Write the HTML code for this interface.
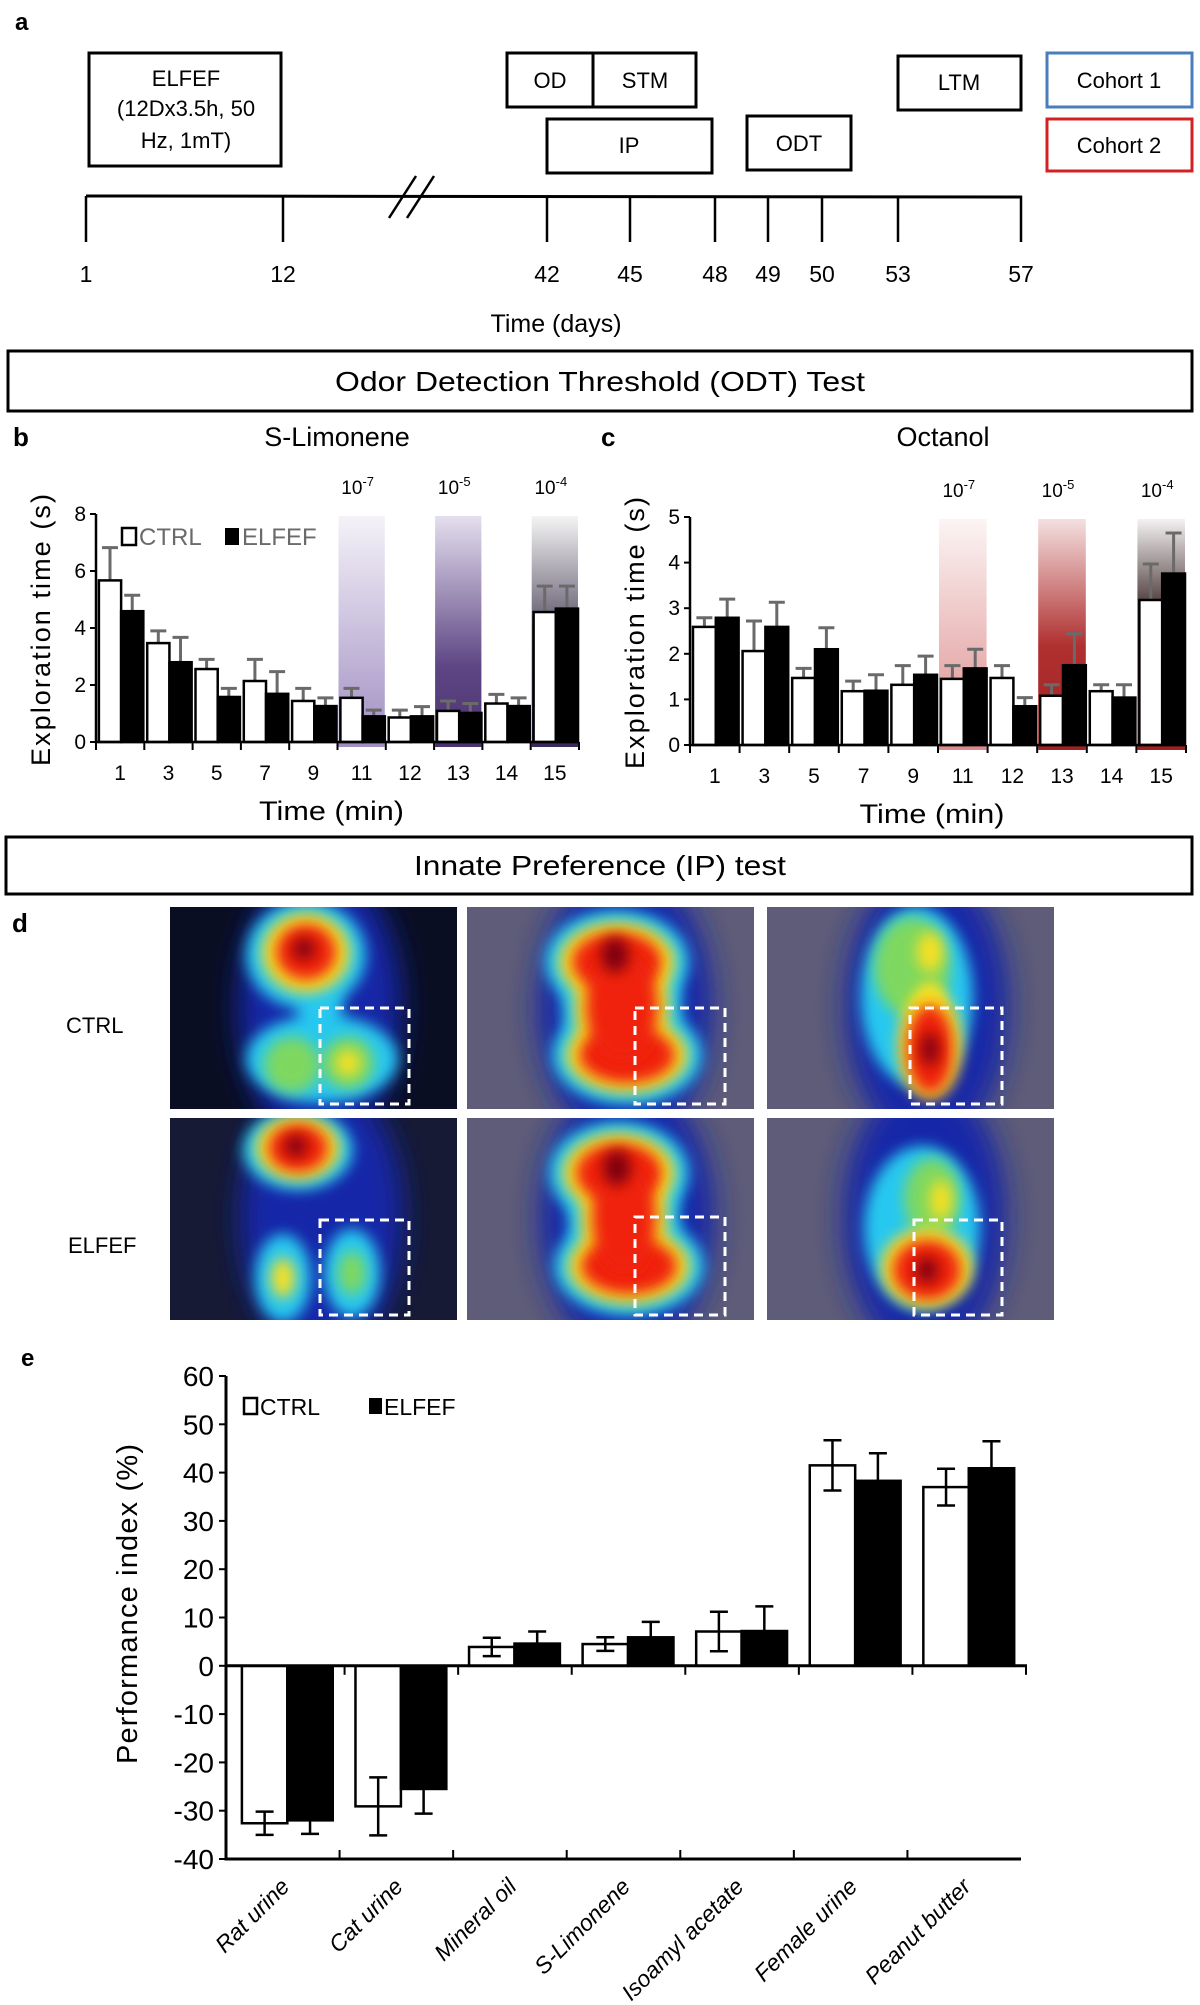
<!DOCTYPE html>
<html><head><meta charset="utf-8"><style>
html,body{margin:0;padding:0;background:#fff;}
svg{display:block;font-family:"Liberation Sans",Arial,sans-serif;}
</style></head><body>
<svg id="fig" width="1200" height="2005" viewBox="0 0 1200 2005" xmlns="http://www.w3.org/2000/svg">
<defs>
<linearGradient id="gb11" x1="0" y1="0" x2="0" y2="1"><stop offset="0" stop-color="#f4f2f8"/><stop offset="1" stop-color="#a08ec2"/></linearGradient>
<linearGradient id="gb13" x1="0" y1="0" x2="0" y2="1"><stop offset="0" stop-color="#e4dfee"/><stop offset="0.65" stop-color="#5e4684"/><stop offset="1" stop-color="#4a3470"/></linearGradient>
<linearGradient id="gb15" x1="0" y1="0" x2="0" y2="1"><stop offset="0" stop-color="#f4f4f4"/><stop offset="0.5" stop-color="#5c5468"/><stop offset="1" stop-color="#3a2a5c"/></linearGradient>
<linearGradient id="gc11" x1="0" y1="0" x2="0" y2="1"><stop offset="0" stop-color="#fcf4f4"/><stop offset="1" stop-color="#dc8a8a"/></linearGradient>
<linearGradient id="gc13" x1="0" y1="0" x2="0" y2="1"><stop offset="0" stop-color="#f4e0e0"/><stop offset="0.55" stop-color="#b03030"/><stop offset="1" stop-color="#a02222"/></linearGradient>
<linearGradient id="gc15" x1="0" y1="0" x2="0" y2="1"><stop offset="0" stop-color="#f4f2f2"/><stop offset="0.35" stop-color="#5a4848"/><stop offset="1" stop-color="#a02020"/></linearGradient>
<filter id="blur" x="-50%" y="-50%" width="200%" height="200%"><feGaussianBlur stdDeviation="7"/></filter>
<filter id="blur2" x="-50%" y="-50%" width="200%" height="200%"><feGaussianBlur stdDeviation="14"/></filter>
</defs>

<!-- Panel a -->
<g font-size="22" text-anchor="middle" fill="#000">
<text x="15" y="30" font-size="24" font-weight="bold" text-anchor="start">a</text>
<rect x="89" y="53" width="192" height="113" fill="none" stroke="#000" stroke-width="3"/>
<text x="186" y="86">ELFEF</text>
<text x="186" y="116">(12Dx3.5h, 50</text>
<text x="186" y="148">Hz, 1mT)</text>
<rect x="507" y="53" width="86" height="54" fill="none" stroke="#000" stroke-width="3"/>
<text x="550" y="88">OD</text>
<rect x="593" y="53" width="103" height="54" fill="none" stroke="#000" stroke-width="3"/>
<text x="645" y="88">STM</text>
<rect x="547" y="119" width="165" height="54" fill="none" stroke="#000" stroke-width="3"/>
<text x="629" y="153">IP</text>
<rect x="747" y="116" width="104" height="54" fill="none" stroke="#000" stroke-width="3"/>
<text x="799" y="151">ODT</text>
<rect x="898" y="56" width="123" height="54" fill="none" stroke="#000" stroke-width="3"/>
<text x="959" y="90">LTM</text>
<rect x="1047" y="53" width="145" height="54" fill="none" stroke="#4a7ebb" stroke-width="3"/>
<text x="1119" y="88">Cohort 1</text>
<rect x="1047" y="119" width="145" height="52" fill="none" stroke="#d42020" stroke-width="3"/>
<text x="1119" y="153">Cohort 2</text>
<line x1="86" y1="196" x2="1022" y2="197" stroke="#000" stroke-width="3"/>
<g stroke="#000" stroke-width="2.5"><line x1="389" y1="218" x2="416" y2="176"/><line x1="407" y1="218" x2="434" y2="176"/></g>
<g id="tticks"></g>
<text x="556" y="332" font-size="25">Time (days)</text>
</g>

<rect x="8" y="351" width="1184" height="60" fill="none" stroke="#000" stroke-width="3"/>
<text x="600" y="391" font-size="28" text-anchor="middle" textLength="530" lengthAdjust="spacingAndGlyphs">Odor Detection Threshold (ODT) Test</text>

<text x="13" y="446" font-size="26" font-weight="bold">b</text>
<text x="337" y="446" font-size="27" text-anchor="middle">S-Limonene</text>
<text x="601" y="446" font-size="26" font-weight="bold">c</text>
<text x="943" y="446" font-size="27" text-anchor="middle">Octanol</text>
<g id="chartB"></g>
<g id="chartC"></g>

<rect x="6" y="837" width="1186" height="57" fill="none" stroke="#000" stroke-width="3"/>
<text x="600" y="875" font-size="28" text-anchor="middle" textLength="372" lengthAdjust="spacingAndGlyphs">Innate Preference (IP) test</text>

<text x="12" y="932" font-size="26" font-weight="bold">d</text>
<text x="66" y="1033" font-size="22">CTRL</text>
<text x="68" y="1253" font-size="22">ELFEF</text>
<g id="heat"></g>

<text x="21" y="1366" font-size="24" font-weight="bold">e</text>
<g id="chartE"></g>
</svg>
<script>
var NS='http://www.w3.org/2000/svg';
function mk(tag,attrs,parent,txt){var e=document.createElementNS(NS,tag);for(var k in attrs)e.setAttribute(k,attrs[k]);if(txt!==undefined)e.textContent=txt;parent.appendChild(e);return e;}

// ---- timeline data
var timelineDays=[1,12,42,45,48,49,50,53,57];
var timelineX=[86,283,547,630,715,768,822,898,1021];
var tt=document.getElementById('tticks');
timelineDays.forEach(function(d,i){
  var l=mk('line',{x1:timelineX[i],y1:196,x2:timelineX[i],y2:242,stroke:'#000','stroke-width':2.5},tt);
  
  
  var t=mk('text',{x:timelineX[i],y:282,'font-size':23},tt,String(d));
  
  
});

// ---- chart b/c data
var odtCategories=['1','3','5','7','9','11','12','13','14','15'];
var limCtrl=[5.67,3.47,2.56,2.14,1.44,1.55,0.86,1.09,1.35,4.56];
var limCtrlErr=[1.15,0.43,0.34,0.76,0.44,0.33,0.26,0.35,0.32,0.91];
var limElfef=[4.59,2.8,1.58,1.69,1.26,0.9,0.9,1.02,1.26,4.68];
var limElfefErr=[0.56,0.87,0.3,0.78,0.29,0.22,0.34,0.33,0.29,0.79];
var limTicks=[0,2,4,6,8];
var octCtrl=[2.59,2.06,1.47,1.18,1.32,1.45,1.47,1.08,1.18,3.18];
var octCtrlErr=[0.2,0.66,0.21,0.22,0.42,0.29,0.27,0.24,0.14,0.79];
var octElfef=[2.79,2.59,2.1,1.19,1.54,1.68,0.85,1.75,1.04,3.76];
var octElfefErr=[0.41,0.54,0.47,0.35,0.41,0.42,0.19,0.69,0.28,0.89];
var octTicks=[0,1,2,3,4,5];
var concLabels=['7','5','4'];
var bandIdx=[5,7,9];

function barChart(g,o){
  var gw=(o.x1-o.x0)/o.cats.length;
  var y=function(v){return o.y0-(v/o.max)*(o.y0-o.yTop);};
  var xg=function(i){return o.x0+i*gw;};
  bandIdx.forEach(function(bi,k){
    var r=mk('rect',{x:xg(bi)+1,y:o.yTop+2,width:gw-2,height:o.y0-o.yTop+3,fill:'url(#'+o.grads[k]+')'},g);
    
    
    var t=mk('text',{x:xg(bi)+gw/2-4,y:o.yTop-20,'font-size':19,'text-anchor':'middle'},g);
    
    
    mk('tspan',{},t,'10');
    mk('tspan',{dy:-8,'font-size':13},t,'-'+concLabels[k]);
  });
  function series(vals,errs,off,fill,name){
    vals.forEach(function(v,i){
      var bx=xg(i)+off, bw=gw*0.46;
      var top=y(v+errs[i]);
      var cx=bx+bw/2;
      var e=mk('path',{d:'M'+cx+' '+y(v)+'V'+top+'M'+(cx-8)+' '+top+'H'+(cx+8),stroke:'#6a6a6a','stroke-width':3,fill:'none'},g);
      
      
      var r=mk('rect',{x:bx,y:y(v),width:bw,height:o.y0-y(v),fill:fill,stroke:'#000','stroke-width':2.5},g);
      
      
    });
  }
  series(o.ctrl,o.ctrlErr,gw*0.06,'#fff','bar-ctrl');
  series(o.elf,o.elfErr,gw*0.52,'#000','bar-elfef');
  var ax=mk('path',{d:'M'+o.x0+' '+o.yTop+'V'+o.y0+'H'+o.x1,stroke:'#000','stroke-width':2.5,fill:'none'},g);
  
  
  o.ticks.forEach(function(t){
    var l=mk('line',{x1:o.x0-6,y1:y(t),x2:o.x0,y2:y(t),stroke:'#000','stroke-width':2},g);
    
    
    var tl=mk('text',{x:o.x0-10,y:y(t)+7,'font-size':21,'text-anchor':'end'},g,String(t));
    
    
  });
  for(var i=0;i<=o.cats.length;i++){
    var l=mk('line',{x1:xg(i),y1:o.y0,x2:xg(i),y2:o.y0+8,stroke:'#000','stroke-width':2},g);
    
    
  }
  o.cats.forEach(function(c,i){
    var t=mk('text',{x:xg(i)+gw/2,y:o.y0+38,'font-size':21,'text-anchor':'middle'},g,c);
    
    
  });
  var xt=mk('text',{x:(o.x0+o.x1)/2-6,y:o.y0+78,'font-size':27,'text-anchor':'middle',textLength:145,lengthAdjust:'spacingAndGlyphs'},g,'Time (min)');
  
  
  var yt=mk('text',{x:0,y:0,'font-size':27,'text-anchor':'middle',textLength:272,lengthAdjust:'spacing',transform:'translate('+(o.x0-46)+','+((o.yTop+o.y0)/2+2)+') rotate(-90)'},g,'Exploration time (s)');
  
  
}
barChart(document.getElementById('chartB'),{x0:96,x1:579,y0:742,yTop:514,max:8,cats:odtCategories,ctrl:limCtrl,ctrlErr:limCtrlErr,elf:limElfef,elfErr:limElfefErr,ticks:limTicks,grads:['gb11','gb13','gb15']});
barChart(document.getElementById('chartC'),{x0:690,x1:1186,y0:745,yTop:517,max:5,cats:odtCategories,ctrl:octCtrl,ctrlErr:octCtrlErr,elf:octElfef,elfErr:octElfefErr,ticks:octTicks,grads:['gc11','gc13','gc15']});
// legend b
(function(){var g=document.getElementById('chartB');
var lg=mk('g',{},g);
mk('rect',{x:122,y:528,width:14,height:17,fill:'#fff',stroke:'#000','stroke-width':2.5},lg);
mk('text',{x:139,y:545,'font-size':24,fill:'#6a6a6a'},lg,'CTRL');
mk('rect',{x:225,y:528,width:14,height:17,fill:'#000'},lg);
mk('text',{x:242,y:545,'font-size':24,fill:'#6a6a6a'},lg,'ELFEF');
})();

// ---- heatmaps
var heatPos=[[170,907],[467,907],[767,907],[170,1118],[467,1118],[767,1118]];
var heatBg=['#0a0e22','#5e5c78','#5e5c78','#161a34','#5e5c78','#5e5c78'];
var levelColors=['#1628a8','#28c8f0','#7ed860','#f8e020','#f02010','#800010'];
// blobs: [cx,cy,rx,ry,level]
var heatBlobs=[
 [[150,100,82,140,0],[136,48,60,54,1],[136,46,44,40,3],[136,45,30,28,4],[134,42,11,11,5],[150,100,22,36,1],[152,152,76,44,1],[122,158,28,28,2],[178,156,26,26,2],[178,156,12,13,3]],
 [[158,100,88,140,0],[150,55,72,52,1],[160,148,75,50,1],[155,100,60,72,1],[150,55,58,40,3],[160,148,61,38,3],[155,100,47,62,3],[150,55,45,30,4],[160,148,48,28,4],[155,100,36,55,4],[148,48,14,18,5]],
 [[160,100,82,140,0],[150,90,56,90,1],[145,60,38,50,2],[163,45,13,20,3],[163,100,14,25,3],[163,138,32,55,3],[163,142,23,44,4],[163,142,9,17,5]],
 [[152,100,82,140,0],[128,32,55,40,1],[128,30,42,32,3],[128,30,30,24,4],[126,28,11,11,5],[113,160,28,44,1],[182,155,28,44,1],[113,160,12,20,3],[182,155,14,22,2]],
 [[160,100,88,140,0],[152,55,70,52,1],[162,148,75,50,1],[157,100,56,72,1],[152,55,56,40,3],[162,148,61,38,3],[157,100,43,62,3],[152,55,43,30,4],[162,148,48,28,4],[157,100,32,55,4],[150,50,14,18,5]],
 [[158,100,82,140,0],[155,110,58,82,1],[165,80,28,40,2],[174,82,11,20,3],[160,150,46,40,3],[160,152,34,30,4],[160,152,11,13,5]]
];
var heatBoxes=[[320,1008,89,96],[635,1008,90,96],[910,1008,92,96],[320,1220,89,95],[635,1217,90,98],[914,1220,88,95]];
(function(){var hg=document.getElementById('heat');
heatPos.forEach(function(p,i){
  var g=mk('g',{},hg);
  
  
  var cp=mk('clipPath',{id:'cp'+i},g);mk('rect',{x:p[0],y:p[1],width:287,height:202},cp);
  var inner=mk('g',{'clip-path':'url(#cp'+i+')'},g);
  mk('rect',{x:p[0],y:p[1],width:287,height:202,fill:heatBg[i]},inner);
  for(var lv=0;lv<levelColors.length;lv++){
    heatBlobs[i].forEach(function(b){
      if(b[4]!==lv)return;
      mk('ellipse',{cx:p[0]+b[0],cy:p[1]+b[1],rx:b[2],ry:b[3],fill:levelColors[lv],filter:lv===0?'url(#blur2)':'url(#blur)'},inner);
    });
  }
  var bx=heatBoxes[i];
  var r=mk('rect',{x:bx[0],y:bx[1],width:bx[2],height:bx[3],fill:'none',stroke:'#fff','stroke-width':3,'stroke-dasharray':'9 6'},g);
  
  
});})();

// ---- chart e data
var ipCategories=['Rat urine','Cat urine','Mineral oil','S-Limonene','Isoamyl acetate','Female urine','Peanut butter'];
var ipCtrl=[-32.6,-29.1,3.9,4.5,7.1,41.5,37.0];
var ipCtrlErr=[2.4,6.0,1.9,1.4,4.1,5.2,3.8];
var ipElfef=[-32.0,-25.5,4.6,5.9,7.2,38.3,40.9];
var ipElfefErr=[2.8,5.1,2.5,3.2,5.1,5.7,5.6];
var ipTicks=[60,50,40,30,20,10,0,-10,-20,-30,-40];
(function(){
var g=document.getElementById('chartE');
var x0=226,x1=1021,yTop=1376,yBot=1859,vmax=60,vmin=-40;
var y=function(v){return yTop+(vmax-v)/(vmax-vmin)*(yBot-yTop);};
var gw=(x1-x0)/ipCategories.length;
var xg=function(i){return x0+i*gw;};
function series(vals,errs,off,fill,name){
  vals.forEach(function(v,i){
    var bx=xg(i)+off,bw=gw*0.4;
    var r=mk('rect',{x:bx,y:Math.min(y(v),y(0)),width:bw,height:Math.abs(y(v)-y(0)),fill:fill,stroke:'#000','stroke-width':2.5},g);
    
    
    var cx=bx+bw/2,a=y(v+errs[i]),b=y(v-errs[i]);
    var e=mk('path',{d:'M'+cx+' '+a+'V'+b+'M'+(cx-9)+' '+a+'H'+(cx+9)+'M'+(cx-9)+' '+b+'H'+(cx+9),stroke:'#000','stroke-width':2.5,fill:'none'},g);
    
    
  });
}
series(ipCtrl,ipCtrlErr,gw*0.14,'#fff','bar-ctrl');
series(ipElfef,ipElfefErr,gw*0.54,'#000','bar-elfef');
var ax=mk('path',{d:'M'+x0+' '+yTop+'V'+yBot+'H'+x1,stroke:'#000','stroke-width':3,fill:'none'},g);


var zl=mk('line',{x1:x0,y1:y(0),x2:x1+6,y2:y(0),stroke:'#000','stroke-width':3},g);


ipTicks.forEach(function(t){
  var l=mk('line',{x1:x0-7,y1:y(t),x2:x0,y2:y(t),stroke:'#000','stroke-width':2},g);
  
  
  var tl=mk('text',{x:x0-12,y:y(t)+10,'font-size':28,'text-anchor':'end'},g,String(t));
  
  
});
for(var i=1;i<=ipCategories.length;i++){
  var l1=mk('line',{x1:xg(i)+5,y1:y(0),x2:xg(i)+5,y2:y(0)+9,stroke:'#000','stroke-width':2},g);
  
  
  if(i<ipCategories.length){
  var l2=mk('line',{x1:xg(i),y1:yBot,x2:xg(i),y2:yBot-9,stroke:'#000','stroke-width':2},g);
  
  }
}
ipCategories.forEach(function(c,i){
  var cx=xg(i)+gw/2+8;
  var t=mk('text',{x:0,y:0,'font-size':23,'font-style':'italic','text-anchor':'end',transform:'translate('+cx+',1888) rotate(-45)'},g,c);
  
  
});
var yt=mk('text',{x:0,y:0,'font-size':29,'text-anchor':'middle',textLength:320,lengthAdjust:'spacing',transform:'translate(137,1604) rotate(-90)'},g,'Performance index (%)');


var lg=mk('g',{},g);


mk('rect',{x:244,y:1398,width:13,height:16,fill:'#fff',stroke:'#000','stroke-width':2.5},lg);
mk('text',{x:260,y:1415,'font-size':23},lg,'CTRL');
mk('rect',{x:369,y:1398,width:13,height:16,fill:'#000'},lg);
mk('text',{x:384,y:1415,'font-size':23},lg,'ELFEF');
})();
</script>
</body></html>
